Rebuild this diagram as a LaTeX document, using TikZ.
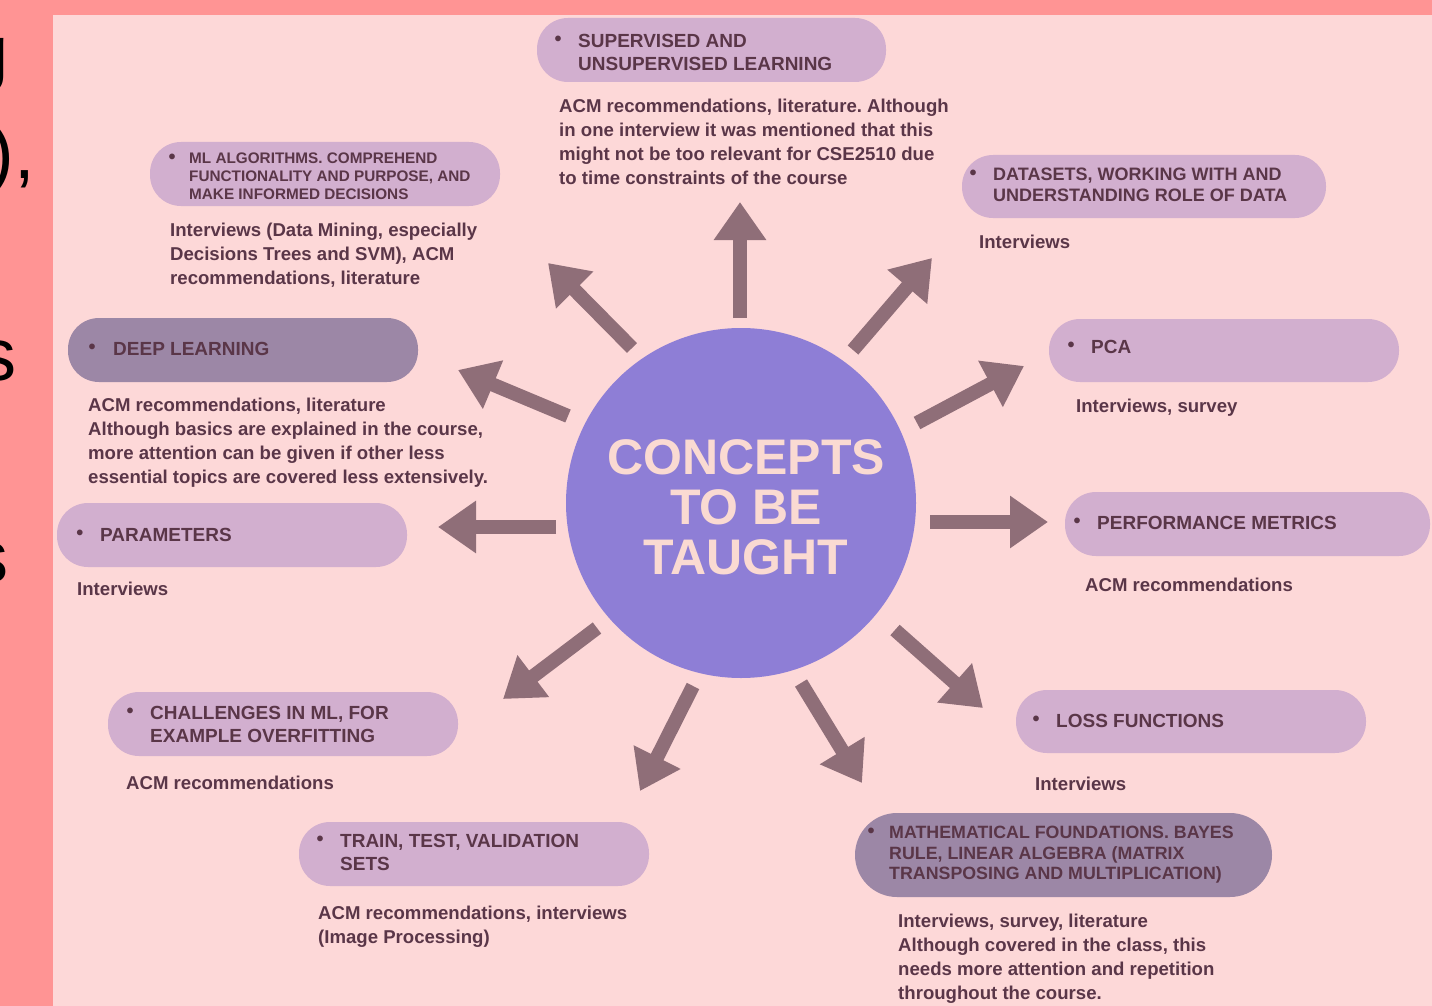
\documentclass[tikz,border=0pt]{standalone}
\usepackage{fontspec}
\setmainfont{Liberation Sans}
\usetikzlibrary{arrows.meta}
\frenchspacing
\definecolor{outerc}{HTML}{FF9494}
\definecolor{panelc}{HTML}{FDD8D8}
\definecolor{boxc}{HTML}{D2AFCF}
\definecolor{dboxc}{HTML}{9C87A6}
\definecolor{txtc}{HTML}{5A3648}
\definecolor{arrc}{HTML}{8F6E78}
\definecolor{circc}{HTML}{8E7ED6}
\definecolor{ctxtc}{HTML}{FADAD2}
\tikzset{
  pill/.style={fill=boxc, rounded corners=31pt, inner sep=0pt, minimum height=64pt, minimum width=350pt},
  dpill/.style={pill, fill=dboxc},
  lbl/.style={font=\frenchspacing\bfseries\fontsize{19}{23}\selectfont, text=txtc, align=left, anchor=north west, inner sep=0pt},
  slbl/.style={lbl, font=\frenchspacing\bfseries\fontsize{15.3}{18}\selectfont},
  mlbl/.style={lbl, font=\frenchspacing\bfseries\fontsize{17.8}{20.5}\selectfont},
  dsc/.style={font=\frenchspacing\bfseries\fontsize{18.6}{24}\selectfont, text=txtc, align=left, anchor=north west, inner sep=0pt},
  bul/.style={font=\bfseries\fontsize{20}{20}\selectfont, text=txtc, inner sep=0pt},
  arr/.style={draw=arrc, line width=14pt, -{Triangle[width=50pt,length=38pt]}},
  frag/.style={font=\fontsize{74}{74}\selectfont, text=black, anchor=base east, inner sep=0pt}
}
\begin{document}
\begin{tikzpicture}[x=1pt,y=-1pt]
\useasboundingbox (0,0) rectangle (1432,1006);
\fill[outerc] (0,0) rectangle (1432,1006);
\begin{scope}
\clip (0,0) rectangle (53,1006);
\node[frag] (f1) at (9,78) {g};
\node[frag] (f2) at (35,178) {),};
\node[frag] (f3) at (17,380) {s};
\node[frag] (f4) at (9,582) {s};
\end{scope}
\fill[panelc] (53,15) rectangle (1432,1006);

% central circle
\node[circle, fill=circc, minimum size=350pt, inner sep=0pt] (c) at (741,503) {};
\node[font=\bfseries\fontsize{50}{50}\selectfont, text=ctxtc, align=center, inner sep=0pt] (ct) at (746,507) {CONCEPTS\\TO BE\\TAUGHT};

% boxes
\node[pill, minimum width=349pt] (sup) at (711.5,50) {};
\node[pill] (mla) at (325,174) {};
\node[pill, minimum width=364pt, minimum height=63pt] (dat) at (1144,186.5) {};
\node[dpill] (dl) at (243,350) {};
\node[pill, minimum height=63pt] (pca) at (1224,350.5) {};
\node[pill] (par) at (232,535) {};
\node[pill, minimum width=365pt] (perf) at (1247.5,524) {};
\node[pill] (chal) at (283,724) {};
\node[pill, minimum height=63pt] (loss) at (1191,721.5) {};
\node[pill] (tts) at (474,854) {};
\node[dpill, minimum width=417pt, minimum height=84pt, rounded corners=42pt] (math) at (1063.5,855) {};

% bullets
\node[bul] (b1) at (558,41) {•};
\node[bul] (b2) at (172,159) {•};
\node[bul] (b3) at (973,175) {•};
\node[bul] (b4) at (92,349) {•};
\node[bul] (b5) at (1071,347) {•};
\node[bul] (b6) at (80,535) {•};
\node[bul] (b7) at (1077,523) {•};
\node[bul] (b8) at (130,713) {•};
\node[bul] (b9) at (1036,721) {•};
\node[bul] (b10) at (320,841) {•};
\node[bul] (b11) at (871,833) {•};

% labels
\node[lbl] (l1) at (578,34) {SUPERVISED AND\\UNSUPERVISED LEARNING};
\node[slbl] (l2) at (189,153) {ML ALGORITHMS. COMPREHEND\\FUNCTIONALITY AND PURPOSE, AND\\MAKE INFORMED DECISIONS};
\node[lbl, font=\bfseries\fontsize{18}{21}\selectfont] (l3) at (993,168) {DATASETS, WORKING WITH AND\\UNDERSTANDING ROLE OF DATA};
\node[lbl] (l4) at (113,342) {DEEP LEARNING};
\node[lbl] (l5) at (1091,340) {PCA};
\node[lbl] (l6) at (100,528) {PARAMETERS};
\node[lbl] (l7) at (1097,516) {PERFORMANCE METRICS};
\node[lbl] (l8) at (150,706) {CHALLENGES IN ML, FOR\\EXAMPLE OVERFITTING};
\node[lbl] (l9) at (1056,714) {LOSS FUNCTIONS};
\node[lbl] (l10) at (340,834) {TRAIN, TEST, VALIDATION\\SETS};
\node[mlbl] (l11) at (889,826) {MATHEMATICAL FOUNDATIONS. BAYES\\RULE, LINEAR ALGEBRA (MATRIX\\TRANSPOSING AND MULTIPLICATION)};

% descriptions
\node[dsc] (d1) at (559,99) {ACM recommendations, literature. Although\\in one interview it was mentioned that this\\might not be too relevant for CSE2510 due\\to time constraints of the course};
\node[dsc] (d2) at (170,223) {Interviews (Data Mining, especially\\Decisions Trees and SVM), ACM\\recommendations, literature};
\node[dsc] (d3) at (979,235) {Interviews};
\node[dsc] (d4) at (88,398) {ACM recommendations, literature\\Although basics are explained in the course,\\more attention can be given if other less\\essential topics are covered less extensively.};
\node[dsc] (d5) at (1076,399) {Interviews, survey};
\node[dsc] (d6) at (77,582) {Interviews};
\node[dsc] (d7) at (1085,578) {ACM recommendations};
\node[dsc] (d8) at (126,776) {ACM recommendations};
\node[dsc] (d9) at (1035,777) {Interviews};
\node[dsc] (d10) at (318,906) {ACM recommendations, interviews\\(Image Processing)};
\node[dsc] (d11) at (898,914) {Interviews, survey, literature\\Although covered in the class, this\\needs more attention and repetition\\throughout the course.};

% arrow end points
\coordinate (aupS) at (740,318);  \coordinate (aupE) at (740,202);
\coordinate (aulS) at (632,348);  \coordinate (aulE) at (548,263);
\coordinate (aurS) at (853,350);  \coordinate (aurE) at (932,258);
\coordinate (aruS) at (917,423);  \coordinate (aruE) at (1024,366);
\coordinate (aluS) at (568,416);  \coordinate (aluE) at (458,370);
\coordinate (alS) at (556,527);   \coordinate (alE) at (438,527);
\coordinate (arS) at (930,522);   \coordinate (arE) at (1048,522);
\coordinate (allS) at (597,628);  \coordinate (allE) at (503,699);
\coordinate (albS) at (693,686);  \coordinate (albE) at (640,791);
\coordinate (arbS) at (801,683);  \coordinate (arbE) at (862,783);
\coordinate (arlS) at (895,630);  \coordinate (arlE) at (983,708);

\draw[arr] (aupS) -- (aupE);
\draw[arr] (aulS) -- (aulE);
\draw[arr] (aurS) -- (aurE);
\draw[arr] (aruS) -- (aruE);
\draw[arr] (aluS) -- (aluE);
\draw[arr] (alS) -- (alE);
\draw[arr] (arS) -- (arE);
\draw[arr] (allS) -- (allE);
\draw[arr] (albS) -- (albE);
\draw[arr] (arbS) -- (arbE);
\draw[arr] (arlS) -- (arlE);
\end{tikzpicture}
\end{document}
